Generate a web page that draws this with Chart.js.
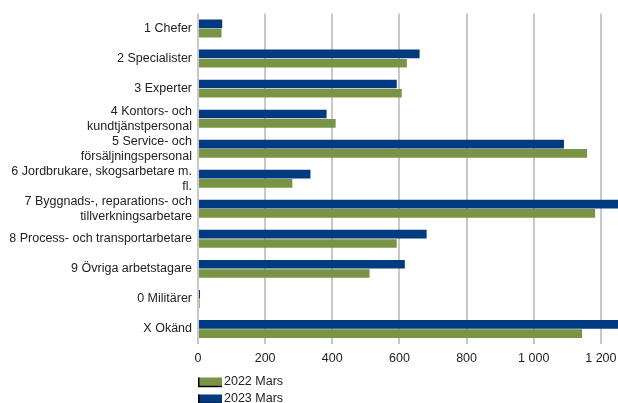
<!DOCTYPE html>
<html>
<head>
<meta charset="utf-8">
<script src="https://cdn.jsdelivr.net/npm/chart.js@4"></script>
<style>
  html, body { margin: 0; padding: 0; background: #fff; }
  #wrap { width: 618px; height: 403px; position: relative; }
</style>
</head>
<body>
<div id="wrap"><canvas id="yrkeChart"></canvas></div>
<script>
const categories = [
    '1 Chefer',
    '2 Specialister',
    '3 Experter',
    ['4 Kontors- och', 'kundtjänstpersonal'],
    ['5 Service- och', 'försäljningspersonal'],
    ['6 Jordbrukare, skogsarbetare m.', 'fl.'],
    ['7 Byggnads-, reparations- och', 'tillverkningsarbetare'],
    '8 Process- och transportarbetare',
    '9 Övriga arbetstagare',
    '0 Militärer',
    'X Okänd'
];
const mars2023 = [72, 660, 592, 383, 1090, 335, 1310, 681, 616, 6, 1320];
const mars2022 = [70, 622, 607, 410, 1159, 281, 1183, 592, 511, 5, 1144];
const xTicks = [0, 200, 400, 600, 800, 1000, 1200];

const blue = '#003a80';
const green = '#7a9445';
const fontFam = '"Liberation Sans", Arial, sans-serif';

// legend drawn stacked under the axis, 2022 first
const stackedLegend = {
    id: 'stackedLegend',
    afterDraw(chart) {
        const ctx = chart.ctx;
        const left = chart.chartArea.left;
        const items = [['2022 Mars', green], ['2023 Mars', blue]];
        ctx.save();
        ctx.font = '12.5px ' + fontFam;
        ctx.textBaseline = 'middle';
        items.forEach(([label, col], i) => {
            const y = 382 + i * 17;
            ctx.fillStyle = col;
            ctx.fillRect(left, y - 4.5, 24, 9);
            ctx.strokeStyle = '#000';
            ctx.lineWidth = 1.5;
            ctx.beginPath();
            ctx.moveTo(left + 0.75, y - 4.5);
            ctx.lineTo(left + 0.75, y + 4.5);
            ctx.lineTo(left + 24, y + 4.5);
            ctx.stroke();
            ctx.fillStyle = '#222';
            ctx.fillText(label, left + 26, y);
        });
        ctx.restore();
    }
};

new Chart('yrkeChart', {
    type: 'bar',
    data: {
        labels: categories,
        datasets: [
            { label: '2023 Mars', data: mars2023, backgroundColor: blue },
            { label: '2022 Mars', data: mars2022, backgroundColor: green }
        ]
    },
    options: {
        indexAxis: 'y',
        responsive: true,
        maintainAspectRatio: false,
        animation: false,
        layout: { padding: { top: 9, right: 0, bottom: 30, left: 0 } },
        categoryPercentage: 0.62,
        barPercentage: 0.93,
        plugins: {
            legend: { display: false },
            tooltip: { enabled: false }
        },
        scales: {
            x: {
                min: 0,
                max: 1251,
                afterBuildTicks: (scale) => {
                    scale.ticks = xTicks.map(v => ({ value: v }));
                },
                afterFit: (scale) => { scale.paddingRight = 0; },
                grid: { color: '#c8c8c8', lineWidth: 2, drawTicks: false },
                border: { display: false },
                ticks: {
                    padding: 7,
                    color: '#222',
                    font: { family: fontFam, size: 12.5 },
                    callback: (v) => v >= 1000 ? Math.floor(v / 1000) + ' ' + String(v % 1000).padStart(3, '0') : String(v)
                }
            },
            y: {
                afterFit: (scale) => { scale.width = 198; },
                grid: { display: false, drawTicks: false },
                border: { display: false },
                ticks: {
                    autoSkip: false,
                    padding: 6,
                    color: '#222',
                    font: { family: fontFam, size: 12.5, lineHeight: 1.2 }
                }
            }
        }
    },
    plugins: [stackedLegend]
});
</script>
</body>
</html>
